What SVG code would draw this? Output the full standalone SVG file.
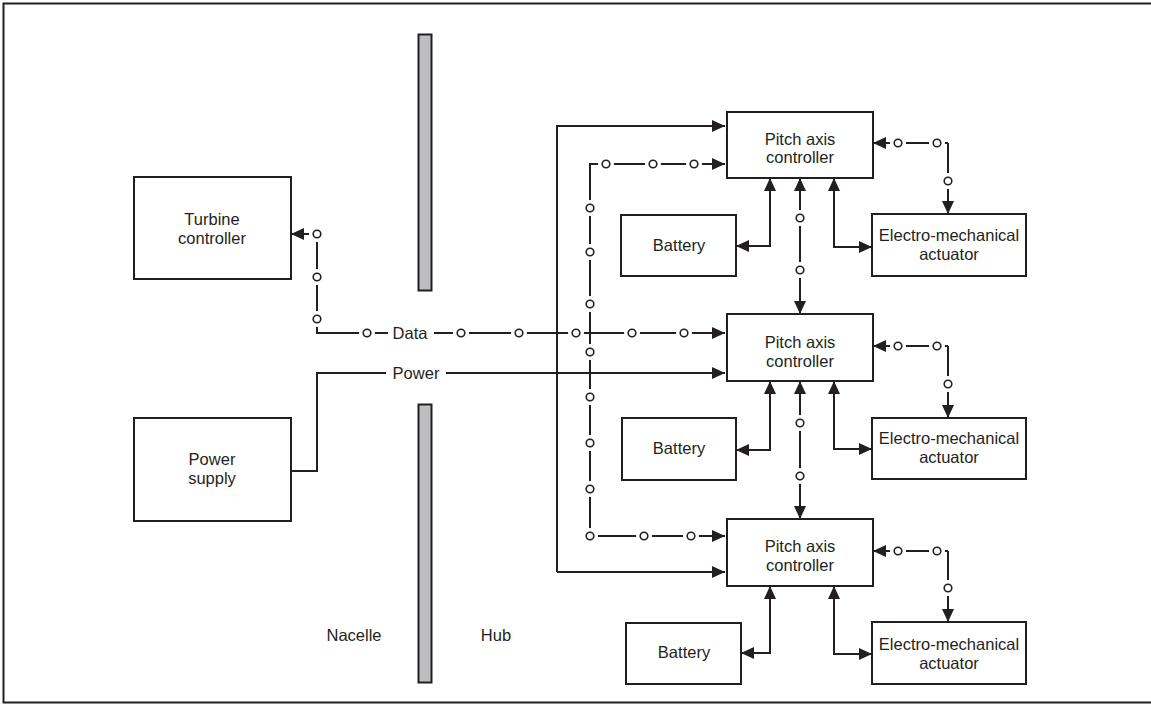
<svg xmlns="http://www.w3.org/2000/svg" width="1151" height="704" viewBox="0 0 1151 704">
<defs>
<style>
.box{fill:#fff;stroke:#231f20;stroke-width:2}
.bar{fill:#bdbec0;stroke:#231f20;stroke-width:2}
.t{font-family:"Liberation Sans",Arial,sans-serif;font-size:16.5px;fill:#231f20;text-anchor:middle}
.ln{fill:none;stroke:#231f20;stroke-width:2}
.a{marker-end:url(#ah)}
.aa{marker-start:url(#ahs);marker-end:url(#ah)}
.halo{fill:#fff;stroke:none}
.dot{fill:#fff;stroke:#231f20;stroke-width:1.6}
</style>
<marker id="ah" markerUnits="userSpaceOnUse" markerWidth="13" markerHeight="12" refX="13" refY="6" orient="auto">
<path d="M0,0 L13,6 L0,12 z" fill="#231f20"/>
</marker>
<marker id="ahs" markerUnits="userSpaceOnUse" markerWidth="13" markerHeight="12" refX="0" refY="6" orient="auto">
<path d="M13,0 L0,6 L13,12 z" fill="#231f20"/>
</marker>
<g id="dotshape"><circle r="8" class="halo"/><circle r="3.8" class="dot"/></g>
</defs>
<rect x="3.5" y="3.5" width="1150" height="699" fill="#fff" stroke="#231f20" stroke-width="2"/>

<g id="bars">
<rect x="418.5" y="34.5" width="13" height="256" class="bar"/>
<rect x="418.5" y="404.5" width="13" height="278" class="bar"/>
</g>

<g id="connectors">
<!-- power -->
<path class="ln" d="M291,471 H317 V373 H386"/>
<path class="ln a" d="M446,373 H725"/>
<path class="ln a" d="M557,572 V126 H725"/>
<path class="ln a" d="M557,572 H725"/>
<!-- data main -->
<path class="ln a" d="M317,234 H291"/>
<path class="ln" d="M317,234 V333 H388"/>
<path class="ln a" d="M434,333 H725"/>
<!-- data bus -->
<path class="ln a" d="M590,536 V164 H725"/>
<path class="ln a" d="M590,536 H725"/>
<!-- pitch-to-pitch -->
<path class="ln aa" d="M800,178 V314"/>
<path class="ln aa" d="M800,381 V519"/>
<!-- battery links -->
<path class="ln aa" d="M770,178 V246 H736"/>
<path class="ln aa" d="M770,381 V450 H736"/>
<path class="ln aa" d="M770,586 V653 H741"/>
<!-- actuator power links -->
<path class="ln aa" d="M834,178 V247 H872"/>
<path class="ln aa" d="M834,381 V449 H872"/>
<path class="ln aa" d="M834,586 V654 H872"/>
<!-- actuator data links -->
<path class="ln a" d="M948,143 H873"/>
<path class="ln a" d="M948,143 V214"/>
<path class="ln a" d="M948,346 H873"/>
<path class="ln a" d="M948,346 V418"/>
<path class="ln a" d="M948,551 H873"/>
<path class="ln a" d="M948,551 V622"/>
<!-- dots -->
<use href="#dotshape" x="317" y="234"/>
<use href="#dotshape" x="317" y="277"/>
<use href="#dotshape" x="317" y="319"/>
<use href="#dotshape" x="367" y="333"/>
<use href="#dotshape" x="461" y="333"/>
<use href="#dotshape" x="519" y="333"/>
<use href="#dotshape" x="576" y="333"/>
<use href="#dotshape" x="632" y="333"/>
<use href="#dotshape" x="684" y="333"/>
<use href="#dotshape" x="606" y="164"/>
<use href="#dotshape" x="653" y="164"/>
<use href="#dotshape" x="694" y="164"/>
<use href="#dotshape" x="590" y="208"/>
<use href="#dotshape" x="590" y="252"/>
<use href="#dotshape" x="590" y="304"/>
<use href="#dotshape" x="590" y="352"/>
<use href="#dotshape" x="590" y="397"/>
<use href="#dotshape" x="590" y="443"/>
<use href="#dotshape" x="590" y="489"/>
<use href="#dotshape" x="590" y="536"/>
<use href="#dotshape" x="644" y="536"/>
<use href="#dotshape" x="691" y="536"/>
<use href="#dotshape" x="800" y="218"/>
<use href="#dotshape" x="800" y="270"/>
<use href="#dotshape" x="800" y="423"/>
<use href="#dotshape" x="800" y="476"/>
<use href="#dotshape" x="898" y="143"/>
<use href="#dotshape" x="937" y="143"/>
<use href="#dotshape" x="948" y="181"/>
<use href="#dotshape" x="898" y="346"/>
<use href="#dotshape" x="937" y="346"/>
<use href="#dotshape" x="948" y="384"/>
<use href="#dotshape" x="898" y="551"/>
<use href="#dotshape" x="937" y="551"/>
<use href="#dotshape" x="948" y="588"/>
<text class="t" x="410" y="339">Data</text>
<text class="t" x="416" y="379">Power</text>
</g>

<g id="turbine-controller">
<rect x="134" y="177" width="157" height="102" class="box"/>
<text class="t" x="212" y="225">Turbine</text>
<text class="t" x="212" y="244">controller</text>
</g>
<g id="power-supply">
<rect x="134" y="418" width="157" height="103" class="box"/>
<text class="t" x="212" y="465">Power</text>
<text class="t" x="212" y="484">supply</text>
</g>

<g id="pitch1">
<rect x="727" y="112" width="146" height="66" class="box"/>
<text class="t" x="800" y="145">Pitch axis</text>
<text class="t" x="800" y="163">controller</text>
</g>
<g id="pitch2">
<rect x="727" y="314" width="146" height="67" class="box"/>
<text class="t" x="800" y="348">Pitch axis</text>
<text class="t" x="800" y="367">controller</text>
</g>
<g id="pitch3">
<rect x="727" y="519" width="146" height="67" class="box"/>
<text class="t" x="800" y="552">Pitch axis</text>
<text class="t" x="800" y="571">controller</text>
</g>

<g id="battery1">
<rect x="621" y="215" width="115" height="61" class="box"/>
<text class="t" x="679" y="251">Battery</text>
</g>
<g id="battery2">
<rect x="622" y="418" width="114" height="62" class="box"/>
<text class="t" x="679" y="454">Battery</text>
</g>
<g id="battery3">
<rect x="626" y="623" width="115" height="61" class="box"/>
<text class="t" x="684" y="658">Battery</text>
</g>

<g id="actuator1">
<rect x="872" y="214" width="154" height="62" class="box"/>
<text class="t" x="949" y="241">Electro-mechanical</text>
<text class="t" x="949" y="260">actuator</text>
</g>
<g id="actuator2">
<rect x="872" y="418" width="154" height="61" class="box"/>
<text class="t" x="949" y="444">Electro-mechanical</text>
<text class="t" x="949" y="463">actuator</text>
</g>
<g id="actuator3">
<rect x="872" y="622" width="154" height="62" class="box"/>
<text class="t" x="949" y="650">Electro-mechanical</text>
<text class="t" x="949" y="669">actuator</text>
</g>

<g id="labels">
<text class="t" x="354" y="641">Nacelle</text>
<text class="t" x="496" y="641">Hub</text>
</g>
</svg>
